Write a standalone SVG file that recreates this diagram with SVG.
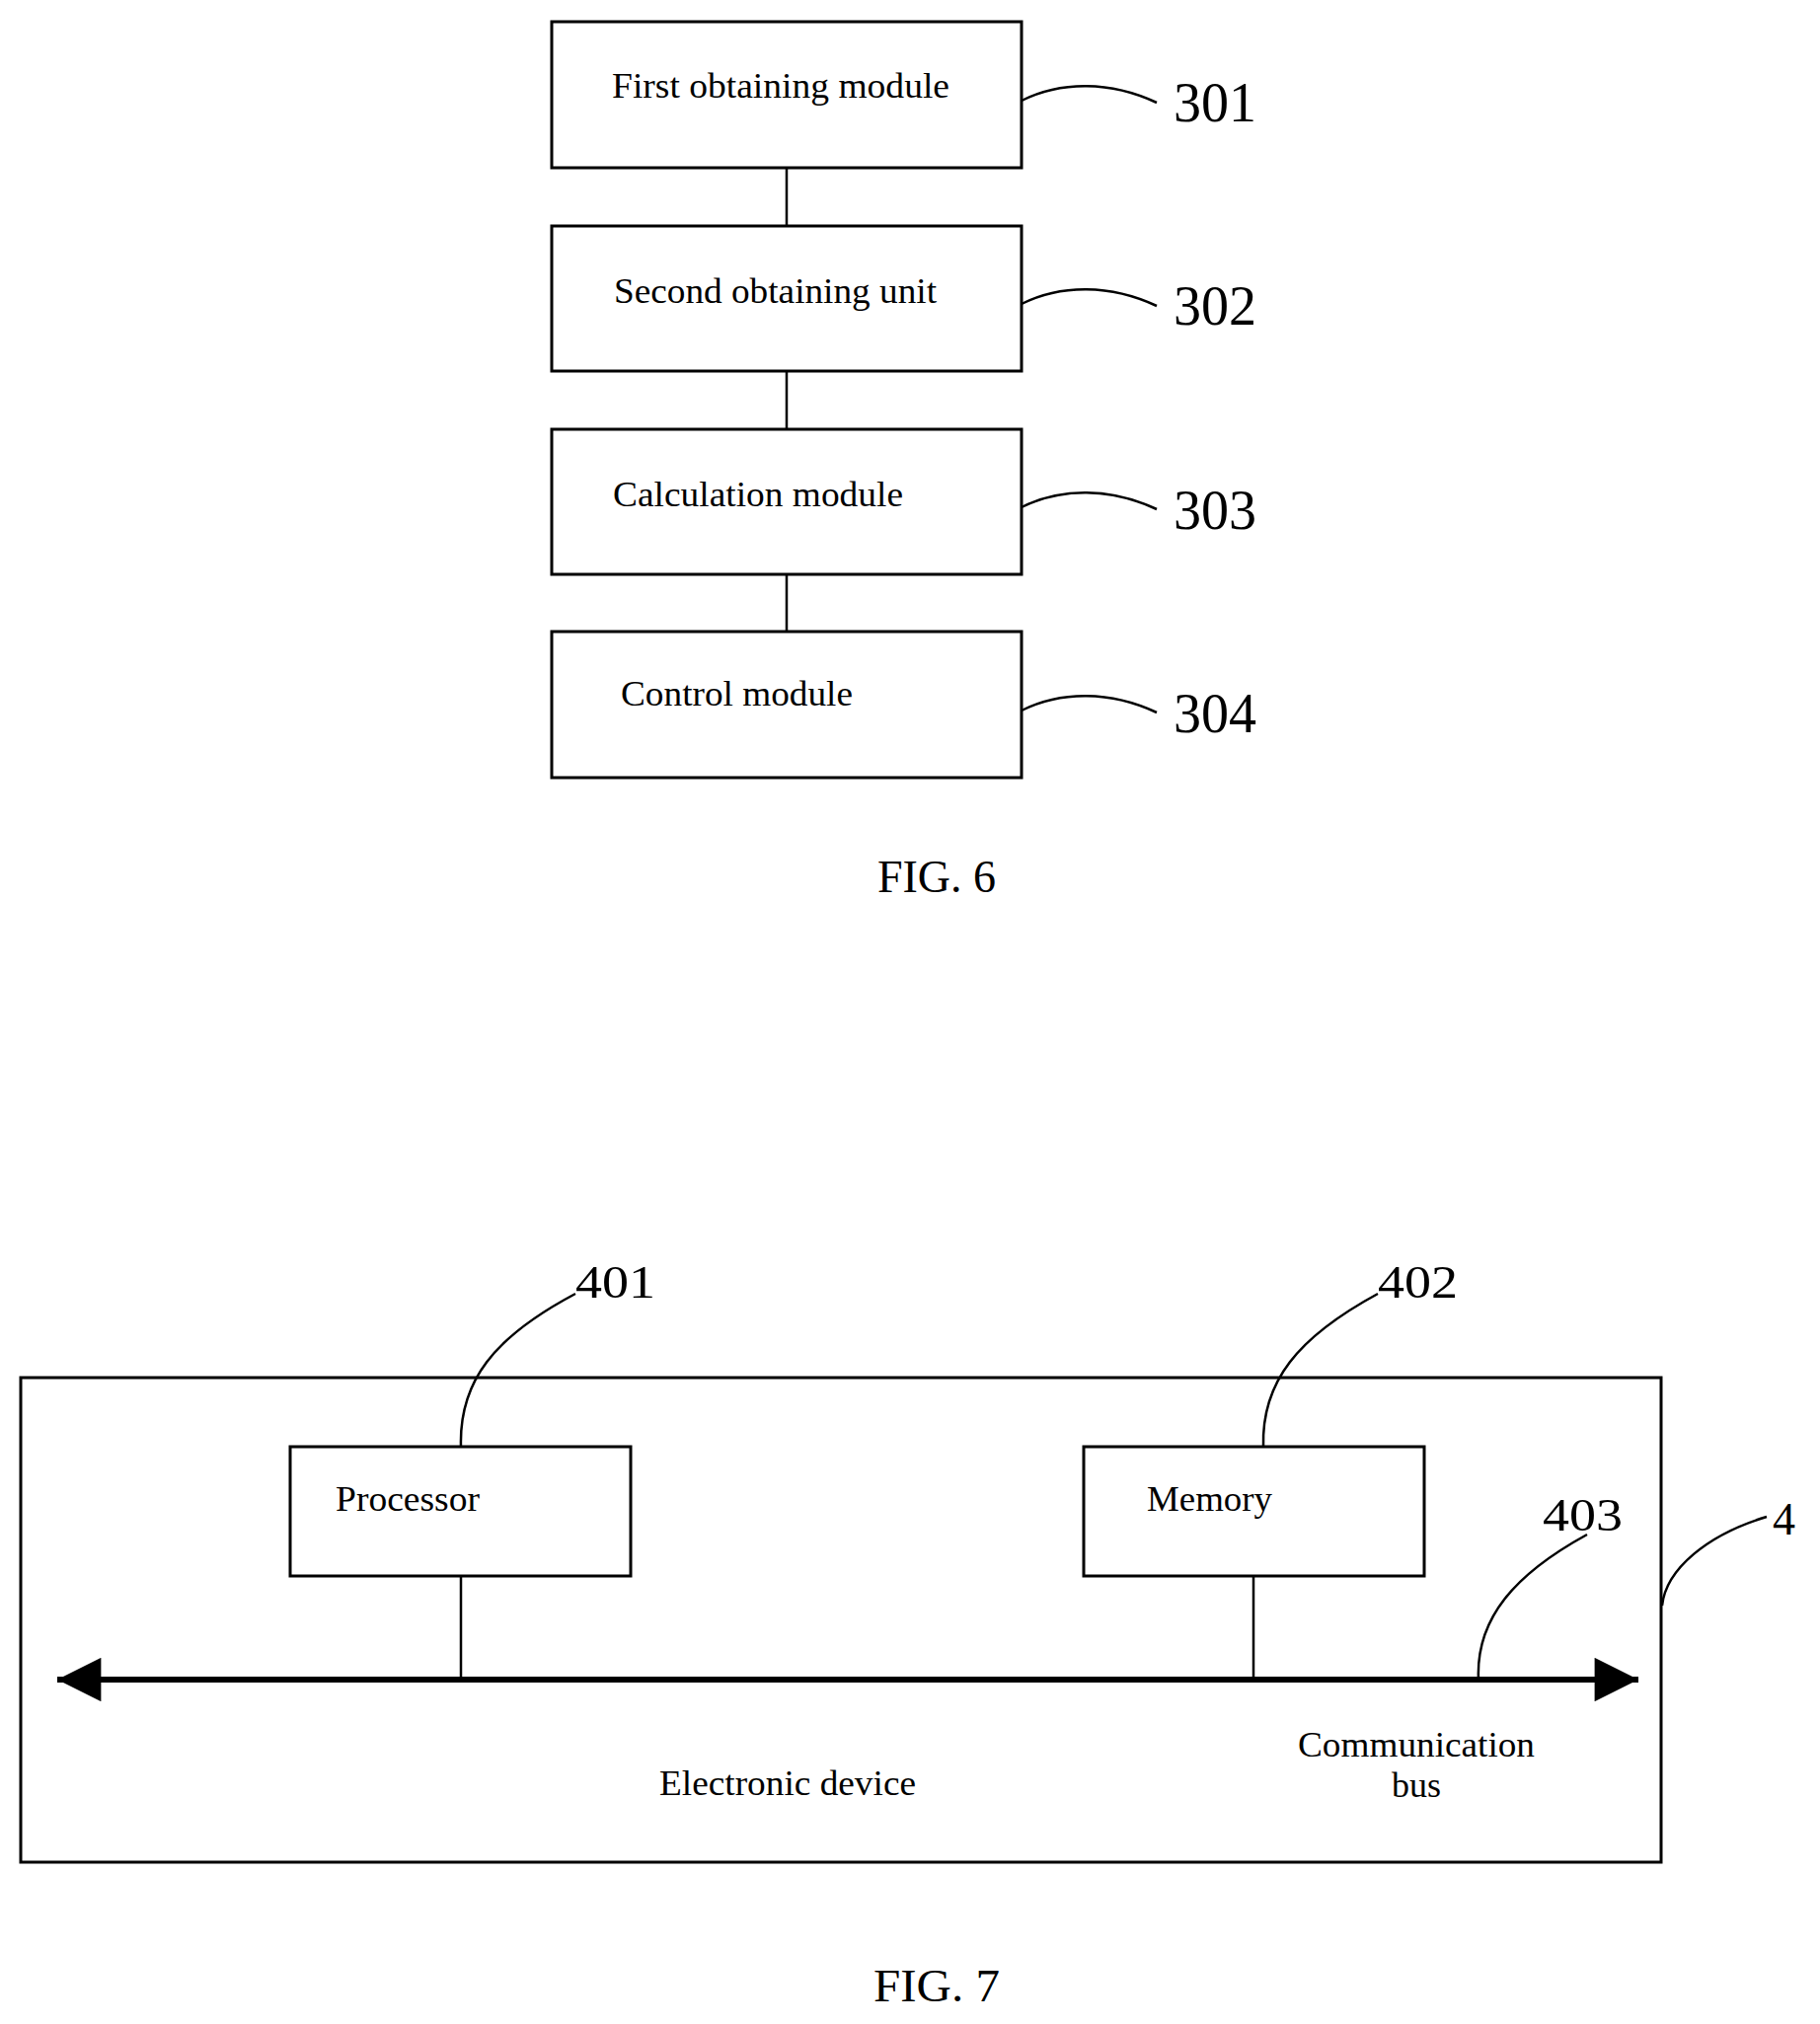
<svg xmlns="http://www.w3.org/2000/svg" width="1844" height="2051" viewBox="0 0 1844 2051">
<style>
.b{fill:none;stroke:#000;stroke-width:3}
.l{fill:none;stroke:#000;stroke-width:2.5}
text{font-family:"Liberation Serif","Times New Roman",serif;fill:#000}
.t{font-size:35px}
.n{font-size:56px}
.s{font-size:36px}
.m{font-size:46px}
</style>
<defs>
<marker id="ah" viewBox="0 0 10 10" refX="10" refY="5" markerWidth="8" markerHeight="7.4" markerUnits="strokeWidth" orient="auto-start-reverse"><path d="M0,0 L10,5 L0,10 Z" fill="#000"/></marker>
</defs>
<rect width="1844" height="2051" fill="#fff"/>
<g id="connectors">
<path class="l" d="M797,170 V229 M797,376 V435 M797,582 V640"/>
<path class="l" d="M1035,102 C1075,82 1125,82 1172,104"/>
<path class="l" d="M1035,308 C1075,288 1125,288 1172,310"/>
<path class="l" d="M1035,514 C1075,494 1125,494 1172,516"/>
<path class="l" d="M1035,720 C1075,700 1125,700 1172,722"/>
<path class="l" d="M467,1597 V1702 M1270,1597 V1702"/>
<path d="M58,1702 H1660" stroke="#000" stroke-width="6" fill="none" marker-start="url(#ah)" marker-end="url(#ah)"/>
<path class="l" d="M467,1466 C465,1400 500,1355 583,1311"/>
<path class="l" d="M1280,1466 C1278,1400 1315,1355 1396,1311"/>
<path class="l" d="M1498,1702 C1495,1640 1535,1595 1608,1555"/>
<path class="l" d="M1684,1627 C1688,1590 1730,1555 1790,1537"/>
</g>
<g id="n301"><rect class="b" x="559" y="22" width="476" height="148"/><text class="t" x="620" y="99" textLength="342" lengthAdjust="spacingAndGlyphs">First obtaining module</text><text class="n" x="1189" y="123">301</text></g>
<g id="n302"><rect class="b" x="559" y="229" width="476" height="147"/><text class="t" x="622" y="307" textLength="327" lengthAdjust="spacingAndGlyphs">Second obtaining unit</text><text class="n" x="1189" y="329">302</text></g>
<g id="n303"><rect class="b" x="559" y="435" width="476" height="147"/><text class="t" x="621" y="513" textLength="294" lengthAdjust="spacingAndGlyphs">Calculation module</text><text class="n" x="1189" y="536">303</text></g>
<g id="n304"><rect class="b" x="559" y="640" width="476" height="148"/><text class="t" x="629" y="715" textLength="235" lengthAdjust="spacingAndGlyphs">Control module</text><text class="n" x="1189" y="742">304</text></g>
<text class="s" x="949" y="904" text-anchor="middle" style="font-size:46px">FIG. 6</text>
<g id="n4"><rect class="b" x="21" y="1396" width="1662" height="491"/><text class="m" x="1796" y="1555">4</text></g>
<g id="n401"><rect class="b" x="294" y="1466" width="345" height="131"/><text class="s" x="340" y="1531" textLength="146" lengthAdjust="spacingAndGlyphs">Processor</text><text class="m" x="583" y="1315" textLength="81" lengthAdjust="spacingAndGlyphs">401</text></g>
<g id="n402"><rect class="b" x="1098" y="1466" width="345" height="131"/><text class="s" x="1162" y="1531" textLength="127" lengthAdjust="spacingAndGlyphs">Memory</text><text class="m" x="1396" y="1315" textLength="81" lengthAdjust="spacingAndGlyphs">402</text></g>
<g id="n403"><text class="m" x="1563" y="1551" textLength="81" lengthAdjust="spacingAndGlyphs">403</text><text class="s" x="1315" y="1780" textLength="240" lengthAdjust="spacingAndGlyphs">Communication</text><text class="s" x="1435" y="1821" text-anchor="middle">bus</text></g>
<text class="s" x="668" y="1819" textLength="260" lengthAdjust="spacingAndGlyphs">Electronic device</text>
<text class="s" x="949" y="2028" text-anchor="middle" style="font-size:46px" textLength="128" lengthAdjust="spacingAndGlyphs">FIG. 7</text>
</svg>
